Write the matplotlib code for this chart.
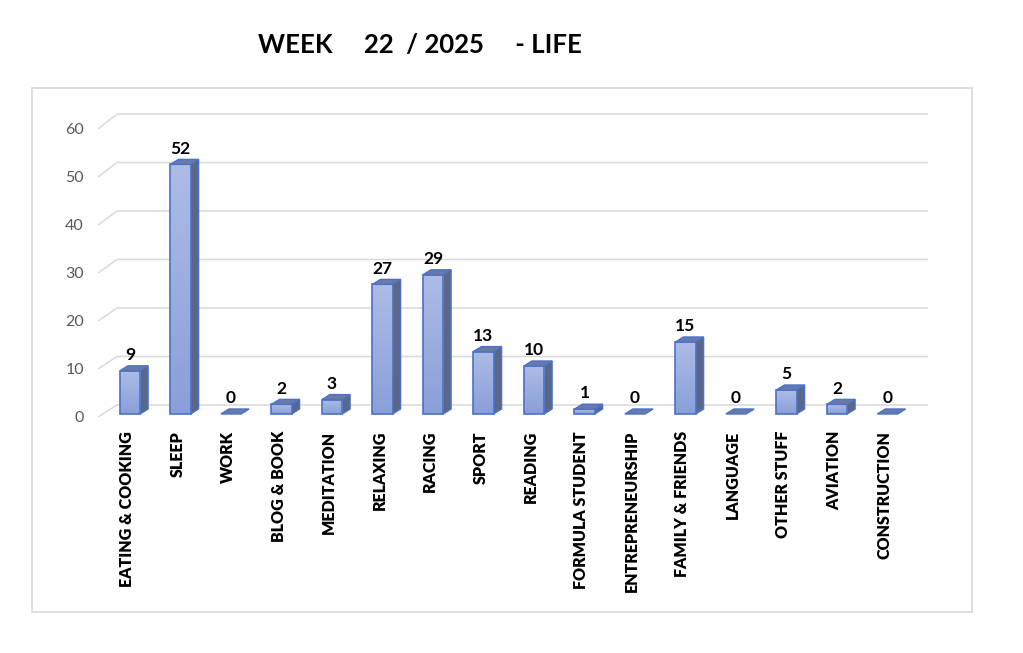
import numpy as np
import matplotlib.pyplot as plt
from matplotlib.patches import Polygon, Rectangle

######------------------ Data
CATEGORIES = ['EATING & COOKING', 'SLEEP', 'WORK', 'BLOG & BOOK', 'MEDITATION',
              'RELAXING', 'RACING', 'SPORT', 'READING', 'FORMULA STUDENT',
              'ENTREPRENEURSHIP', 'FAMILY & FRIENDS', 'LANGUAGE', 'OTHER STUFF',
              'AVIATION', 'CONSTRUCTION']
HOURS = [9, 52, 0, 2, 3, 27, 29, 13, 10, 1, 0, 15, 0, 5, 2, 0]
YTICKS = [0, 10, 20, 30, 40, 50, 60]
TITLE = 'WEEK     22  / 2025     - LIFE'

######------------------ Figure settings
W_PX, H_PX = 1023, 653
DPI = 100
X0_PX, XSTEP_PX = 130, 50.5      # pixel of first bar centre, spacing
Y0_PX, YSCALE_PX = 414, 4.8      # pixel of value 0, pixels per unit
BAR_W = 0.4
DX, DY = 8 / XSTEP_PX, 5 / YSCALE_PX          # bar depth
EDGE = '#4a72c8'
FRONT_TOP, FRONT_BOT = '#adbce6', '#8a9fd9'
SIDE = '#5a6789'
TOPC = '#6a7aa8'
GRID = '#d9d9d9'
FONT = 'Lato'

plt.rcParams['font.family'] = [FONT, 'DejaVu Sans']

fig = plt.figure(figsize=(W_PX / DPI, H_PX / DPI), dpi=DPI)

# axes placed so that data coords map onto the reference pixels
L_PX, R_PX, T_PX, B_PX = 40, 965, 80, 440
ax = fig.add_axes([L_PX / W_PX, 1 - B_PX / H_PX, (R_PX - L_PX) / W_PX, (B_PX - T_PX) / H_PX])
ax.axis('off')

def ypx(p):
    return (Y0_PX - p) / YSCALE_PX

def xpx(p):
    return (p - X0_PX) / XSTEP_PX

# back wall grid lines with perspective stub
for v in YTICKS:
    back_y = ypx(405 - 4.85 * v)
    front_y = ypx(417 - 4.8 * v)
    ax.plot([xpx(98), xpx(117), xpx(928)], [front_y, back_y, back_y],
            color=GRID, lw=1.1, zorder=1, solid_capstyle='butt')
    ax.text(xpx(84), ypx(416 - 4.8 * v), str(v), ha='right', va='center_baseline',
            fontsize=11.5, color='#595959')

# bars
grad = np.linspace(0, 1, 256).reshape(-1, 1)
cmap = plt.matplotlib.colors.LinearSegmentedColormap.from_list('g', [FRONT_BOT, FRONT_TOP])
for i, (cat, v) in enumerate(zip(CATEGORIES, HOURS)):
    xl, xr = i - BAR_W / 2, i + BAR_W / 2
    if v > 0:
        side = Polygon([(xr, 0), (xr + DX, DY), (xr + DX, v + DY), (xr, v)],
                       facecolor=SIDE, edgecolor=EDGE, lw=1, zorder=3)
        ax.add_patch(side)
        front = Rectangle((xl, 0), BAR_W, v, facecolor='none', edgecolor=EDGE, lw=1.2, zorder=5)
        im = ax.imshow(grad, cmap=cmap, extent=[xl, xr, 0, v], origin='lower',
                       aspect='auto', zorder=4)
        clip = Rectangle((xl, 0), BAR_W, v, transform=ax.transData)
        im.set_clip_path(clip)
        ax.add_patch(front)
    top = Polygon([(xl, v), (xr, v), (xr + DX, v + DY), (xl + DX, v + DY)],
                  facecolor=TOPC, edgecolor=EDGE, lw=1, zorder=6)
    ax.add_patch(top)
    ax.annotate(str(v), (i, v + DY), xytext=(0, 2), textcoords='offset points',
                ha='center', va='bottom', fontsize=12.5, fontweight='bold', color='black')
    ax.text(i - 3 / XSTEP_PX, ypx(431), cat, rotation=90, ha='center', va='top',
            fontsize=11.5, fontweight='heavy', color='black')

ax.set_xlim((L_PX - X0_PX) / XSTEP_PX, (R_PX - X0_PX) / XSTEP_PX)
ax.set_ylim((Y0_PX - B_PX) / YSCALE_PX, (Y0_PX - T_PX) / YSCALE_PX)

# outer frame
fig.patches.append(Rectangle((32 / W_PX, 1 - 612 / H_PX), 940 / W_PX, 524 / H_PX,
                             transform=fig.transFigure, facecolor='none',
                             edgecolor=GRID, lw=1.2))

fig.text(420 / W_PX, 1 - 45 / H_PX, TITLE, ha='center', va='center',
         fontsize=18.5, fontweight='bold')

fig.savefig('out.png', dpi=DPI)
